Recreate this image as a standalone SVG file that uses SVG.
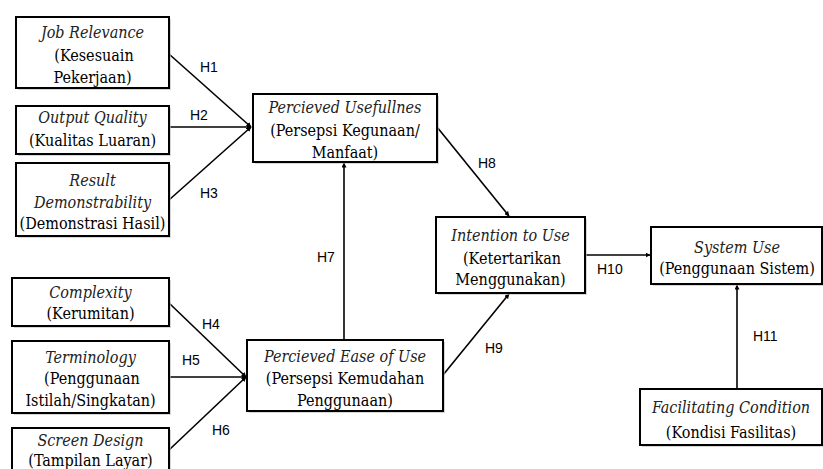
<svg xmlns="http://www.w3.org/2000/svg" width="823" height="469" viewBox="0 0 823 469">
<style>
.box{fill:#fff;stroke:#000;stroke-width:2}
.sh{fill:#bbb;stroke:none;opacity:0.6}
.t{font-family:"DejaVu Serif Condensed","DejaVu Serif",serif;font-stretch:condensed;font-size:16px;fill:#000;text-anchor:middle}
.i{font-style:italic;fill:#222}
.lbl{font-family:"Liberation Sans",Arial,sans-serif;font-size:14px;fill:#000}
.c{stroke:#000;stroke-width:1.6;fill:none;marker-end:url(#ah)}
</style>
<defs>
<marker id="ah" viewBox="0 0 10 10" refX="9" refY="5" markerWidth="5" markerHeight="5" orient="auto" markerUnits="userSpaceOnUse">
<path d="M0,0 L10,5 L0,10 z" fill="#000"/>
</marker>
</defs>
<rect width="823" height="469" fill="#fff"/>
<g id="connectors">
<line class="c" x1="169" y1="54" x2="251" y2="127"/>
<line class="c" x1="169" y1="127" x2="251" y2="127"/>
<line class="c" x1="169" y1="200" x2="251" y2="127"/>
<line class="c" x1="169" y1="303" x2="246" y2="377"/>
<line class="c" x1="169" y1="377" x2="246" y2="377"/>
<line class="c" x1="169" y1="450" x2="246" y2="377"/>
<line class="c" x1="344" y1="340" x2="344" y2="163"/>
<line class="c" x1="437" y1="127" x2="509" y2="216"/>
<line class="c" x1="443" y1="375" x2="509" y2="294"/>
<line class="c" x1="585" y1="255" x2="650" y2="255"/>
<line class="c" x1="737" y1="389" x2="737" y2="285"/>
<text class="lbl" x="200" y="72">H1</text>
<text class="lbl" x="190" y="120">H2</text>
<text class="lbl" x="200" y="198">H3</text>
<text class="lbl" x="202" y="329">H4</text>
<text class="lbl" x="182" y="365">H5</text>
<text class="lbl" x="212" y="435">H6</text>
<text class="lbl" x="317" y="262">H7</text>
<text class="lbl" x="478" y="168">H8</text>
<text class="lbl" x="485" y="353">H9</text>
<text class="lbl" x="597" y="274">H10</text>
<text class="lbl" x="753" y="341">H11</text>
</g>
<g id="job-relevance">
<rect class="sh" x="18" y="19" width="153" height="71"/>
<rect class="box" x="16" y="17" width="153" height="71"/>
<text class="t i" x="92.5" y="38">Job Relevance</text>
<text class="t" x="94" y="61">(Kesesuain</text>
<text class="t" x="92.5" y="83">Pekerjaan)</text>
</g>
<g id="output-quality">
<rect class="sh" x="18" y="108" width="153" height="48"/>
<rect class="box" x="16" y="106" width="153" height="48"/>
<text class="t i" x="92.5" y="123">Output Quality</text>
<text class="t" x="92.5" y="146">(Kualitas Luaran)</text>
</g>
<g id="result-demonstrability">
<rect class="sh" x="18" y="165" width="153" height="73"/>
<rect class="box" x="16" y="163" width="153" height="73"/>
<text class="t i" x="92.5" y="186">Result</text>
<text class="t i" x="92.5" y="208">Demonstrability</text>
<text class="t" x="92.5" y="229">(Demonstrasi Hasil)</text>
</g>
<g id="perceived-usefulness">
<rect class="sh" x="255" y="96" width="184" height="68"/>
<rect class="box" x="253" y="94" width="184" height="68"/>
<text class="t i" x="345" y="113">Percieved Usefullnes</text>
<text class="t" x="345" y="136">(Persepsi Kegunaan/</text>
<text class="t" x="345" y="158">Manfaat)</text>
</g>
<g id="perceived-ease">
<rect class="sh" x="249" y="342" width="196" height="71"/>
<rect class="box" x="247" y="340" width="196" height="71"/>
<text class="t i" x="345" y="362">Percieved Ease of Use</text>
<text class="t" x="345" y="384">(Persepsi Kemudahan</text>
<text class="t" x="345" y="406">Penggunaan)</text>
</g>
<g id="intention">
<rect class="sh" x="438" y="219" width="149" height="76"/>
<rect class="box" x="436" y="217" width="149" height="76"/>
<text class="t i" x="510.5" y="241">Intention to Use</text>
<text class="t" x="512" y="264">(Ketertarikan</text>
<text class="t" x="510.5" y="285">Menggunakan)</text>
</g>
<g id="system-use">
<rect class="sh" x="653" y="229" width="171" height="57"/>
<rect class="box" x="651" y="227" width="171" height="57"/>
<text class="t i" x="737" y="253">System Use</text>
<text class="t" x="737" y="274">(Penggunaan Sistem)</text>
</g>
<g id="facilitating">
<rect class="sh" x="642" y="391" width="182" height="56"/>
<rect class="box" x="640" y="389" width="182" height="56"/>
<text class="t i" x="731" y="413">Facilitating Condition</text>
<text class="t" x="731" y="438">(Kondisi Fasilitas)</text>
</g>
<g id="complexity">
<rect class="sh" x="14" y="280" width="157" height="48"/>
<rect class="box" x="12" y="278" width="157" height="48"/>
<text class="t i" x="90.5" y="298">Complexity</text>
<text class="t" x="90.5" y="319">(Kerumitan)</text>
</g>
<g id="terminology">
<rect class="sh" x="14" y="343" width="157" height="72"/>
<rect class="box" x="12" y="341" width="157" height="72"/>
<text class="t i" x="90.5" y="363">Terminology</text>
<text class="t" x="92" y="384">(Penggunaan</text>
<text class="t" x="90.5" y="406">Istilah/Singkatan)</text>
</g>
<g id="screen-design">
<rect class="sh" x="14" y="430" width="157" height="50"/>
<rect class="box" x="12" y="428" width="157" height="50"/>
<text class="t i" x="90.5" y="446">Screen Design</text>
<text class="t" x="90.5" y="466">(Tampilan Layar)</text>
</g>
</svg>
